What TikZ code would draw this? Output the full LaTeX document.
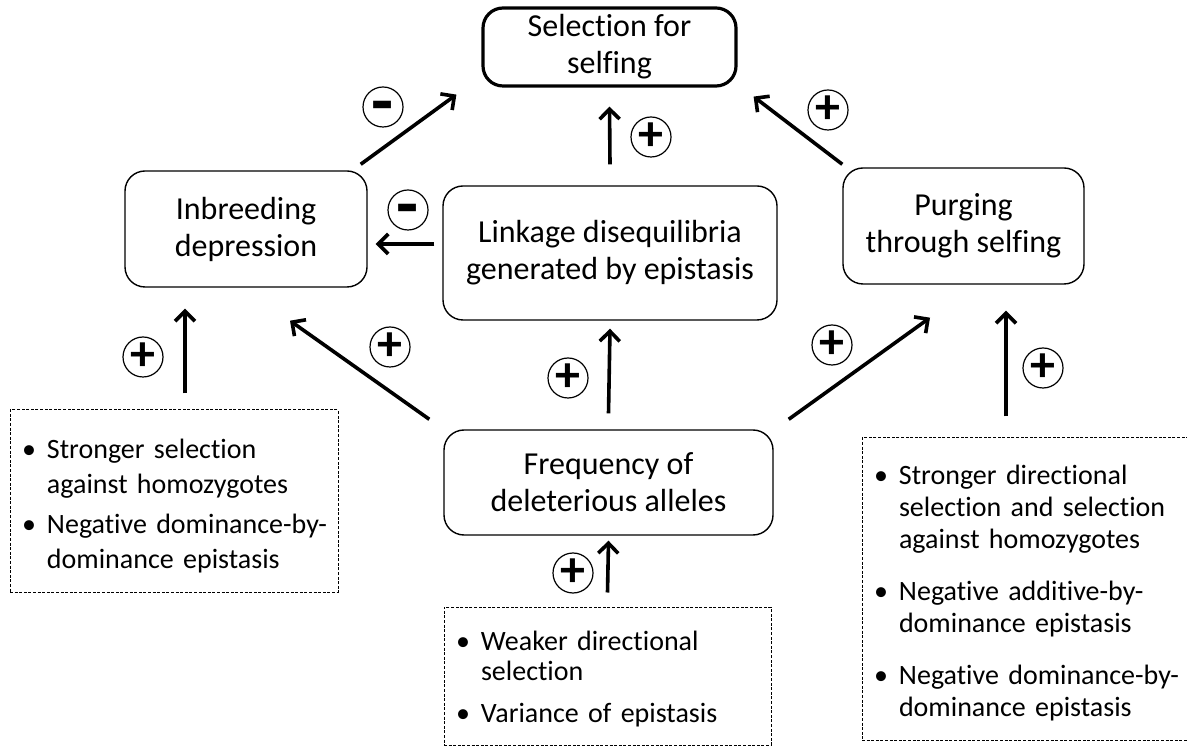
\documentclass[tikz,border=0pt]{standalone}
\usepackage{fontspec}
\setmainfont{Carlito}[Ligatures=NoCommon]
\usetikzlibrary{arrows.meta}
\tikzset{
    mainbox/.style={draw=black, rounded corners=10pt, line width=0.7pt, align=center, inner sep=0, font=\fontsize{16}{18.5}\selectfont},
    selbox/.style={mainbox, line width=1.6pt},
    notebox/.style={draw=black, dash pattern=on 1.5pt off 0.8pt, line width=0.5pt, inner xsep=6pt, inner ysep=0, align=left},
    signc/.style={circle, draw=black, line width=0.6pt, minimum size=20pt, inner sep=0, font=\fontsize{25}{25}\selectfont\bfseries},
    minusc/.style={signc, font=\fontsize{36}{36}\selectfont\bfseries},
    arr/.style={-{Straight Barb[length=5pt,width=10pt]}, line width=1.8pt}
}
\newcommand{\bitem}[1]{\par\noindent\makebox[12.5pt][l]{\textbullet}\begin{tabular}[t]{@{}l@{}}#1\end{tabular}\par}
\newcommand{\minussign}{\raisebox{-9.5pt}[0pt][0pt]{-}}

\begin{document}
\begin{tikzpicture}[x=0.5pt,y=-0.5pt]
    \useasboundingbox (0,0) rectangle (1187,747);
    \clip (0,0) rectangle (1187,747);

    % main boxes
    \node[selbox, minimum width=126.5pt, minimum height=39pt] (sel) at (609.5,47) {Selection for\\selfing};
    \node[mainbox, minimum width=121pt, minimum height=58pt] (inb) at (246,229) {Inbreeding\\depression};
    \node[mainbox, minimum width=167pt, minimum height=67pt] (link) at (610,253) {Linkage disequilibria\\generated by epistasis};
    \node[mainbox, minimum width=120.5pt, minimum height=58pt] (purg) at (963.5,226) {Purging\\through selfing};
    \node[mainbox, minimum width=164.5pt, minimum height=52.5pt] (freq) at (608.5,482.5) {Frequency of\\deleterious alleles};

    % dashed boxes
    \node[notebox, minimum width=164pt, minimum height=91pt, text width=152pt,
          font=\fontsize{14}{17.5}\selectfont] (nleft) at (174,501) {%
        \bitem{Stronger selection\\against homozygotes}\vspace{1.5pt}
        \bitem{Negative dominance-by-\\dominance epistasis}};
    \node[notebox, minimum width=163.5pt, minimum height=69pt, text width=151.5pt,
          font=\fontsize{14}{15}\selectfont] (nbot) at (607.5,676) {%
        \bitem{Weaker directional\\selection}\vspace{5pt}
        \bitem{Variance of epistasis}};
    \node[notebox, minimum width=165pt, minimum height=151pt, text width=153pt,
          font=\fontsize{14}{16.2}\selectfont] (nright) at (1027,589) {%
        \bitem{Stronger directional\\selection and selection\\against homozygotes}\vspace{8.5pt}
        \bitem{Negative additive-by-\\dominance epistasis}\vspace{8.5pt}
        \bitem{Negative dominance-by-\\dominance epistasis}};

    % signs
    \node[minusc] (m1) at (383,107) {\minussign};
    \node[signc] (p1) at (651,137) {+};
    \node[signc] (p2) at (828,110) {+};
    \node[minusc] (m2) at (408,210) {\minussign};
    \node[signc] (p3) at (143,357) {+};
    \node[signc] (p4) at (390,347) {+};
    \node[signc] (p5) at (568,378) {+};
    \node[signc] (p6) at (832,345) {+};
    \node[signc] (p7) at (1043,368) {+};
    \node[signc] (p8) at (573,573) {+};

    % arrows
    \draw[arr] ([shift={(-7,-6)}]inb.north east) -- ([shift={(-25,7)}]sel.south west);
    \draw[arr] ([yshift=10.5pt]link.north) -- ([yshift=-9.5pt]sel.south);
    \draw[arr] ([shift={(0,-3)}]purg.north west) -- ([shift={(16,9)}]sel.south east);
    \draw[arr] ([shift={(-8,-9)}]link.west) -- ([shift={(8,15)}]inb.east);
    \draw[arr] ([shift={(11,-16)}]nleft.north) -- ([shift={(-61,21)}]inb.south);
    \draw[arr] ([shift={(-14,-10)}]freq.north west) -- ([shift={(44,33)}]inb.south);
    \draw[arr] ([yshift=8pt]freq.north) -- ([yshift=-4pt]link.south);
    \draw[arr] ([shift={(15,-10)}]freq.north east) -- ([shift={(-33.5,33)}]purg.south);
    \draw[arr] ([shift={(-21,-21)}]nright.north) -- ([shift={(42.5,26)}]purg.south);
    \draw[arr] ([yshift=7pt]nbot.north) -- ([yshift=-2.5pt]freq.south);
\end{tikzpicture}
\end{document}
